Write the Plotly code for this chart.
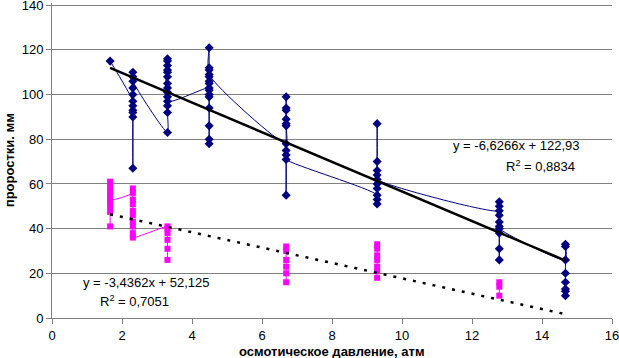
import plotly.graph_objects as go

# Blue series (replicate measurements per osmotic pressure, in data order)
blue_x_levels = [1.66, 2.31, 3.30, 4.49, 6.69, 9.29, 12.78, 14.67]
blue_values = [
    [115],
    [97, 93, 90, 67, 92, 95, 100, 103, 110, 108, 106],
    [83, 92, 95, 99, 101, 103, 105, 108, 110, 111, 113, 115, 116, 97],
    [103, 99, 94, 86, 80, 78, 100, 102, 105, 106, 108, 111, 112, 121, 109],
    [78, 86, 89, 94, 99, 93, 87, 55, 75, 73, 71],
    [55, 51, 53, 58, 60, 66, 70, 87, 64, 62],
    [48, 52, 50, 46, 43, 26, 31, 38, 41, 40],
    [26, 33, 32, 20, 16, 13, 12, 10],
]

# Pink series
pink_x_levels = [1.66, 2.31, 3.30, 6.69, 9.29, 12.78]
pink_values = [
    [41, 47.5, 50, 52, 55, 57, 59, 61, 53],
    [56, 58, 53, 51, 48, 46, 43, 41, 38, 36],
    [41, 40, 38, 35, 31, 26],
    [32, 30, 26, 23, 20, 16],
    [33, 31, 28, 26, 23, 21, 18],
    [16, 14, 10],
]
pink_connected = [True, True, False, False, False, False]  # line continues to next group

# Trendline coefficients (from the chart)
blue_slope, blue_intercept = -6.6266, 122.93
pink_slope, pink_intercept = -3.4362, 52.125
trend_x_range = [1.66, 14.67]

x_ticks = [0, 2, 4, 6, 8, 10, 12, 14, 16]
y_ticks = [0, 20, 40, 60, 80, 100, 120, 140]

NAVY = "#000080"
MAGENTA = "#FF00FF"
FONT = "Liberation Sans, Arial, sans-serif"

bx, by = [], []
for xv, vals in zip(blue_x_levels, blue_values):
    for v in vals:
        bx.append(xv)
        by.append(v)

px, py = [], []
for xv, vals, conn in zip(pink_x_levels, pink_values, pink_connected):
    for v in vals:
        px.append(xv)
        py.append(v)
    if not conn:
        px.append(None)
        py.append(None)

fig = go.Figure()

fig.add_trace(go.Scatter(
    x=px, y=py, mode="lines+markers",
    line=dict(color=MAGENTA, width=1, shape="spline", smoothing=0.6),
    marker=dict(symbol="square", size=6, color=MAGENTA),
    connectgaps=False, showlegend=False, hoverinfo="skip", cliponaxis=False))

fig.add_trace(go.Scatter(
    x=bx, y=by, mode="lines+markers",
    line=dict(color=NAVY, width=1, shape="spline", smoothing=0.6),
    marker=dict(symbol="diamond", size=7, color=NAVY),
    showlegend=False, hoverinfo="skip", cliponaxis=False))

fig.add_trace(go.Scatter(
    x=trend_x_range,
    y=[blue_slope * x + blue_intercept for x in trend_x_range],
    mode="lines", line=dict(color="black", width=2.5),
    showlegend=False, hoverinfo="skip"))

fig.add_trace(go.Scatter(
    x=trend_x_range,
    y=[pink_slope * x + pink_intercept for x in trend_x_range],
    mode="lines", line=dict(color="black", width=2.5, dash="3px,7px"),
    showlegend=False, hoverinfo="skip"))

ann_font = dict(family=FONT, size=13, color="black")
fig.add_annotation(x=13.27, y=77.1, text="y = -6,6266x + 122,93",
                   showarrow=False, font=ann_font)
fig.add_annotation(x=13.95, y=68.2, text="R<sup>2</sup> = 0,8834",
                   showarrow=False, font=ann_font)
fig.add_annotation(x=2.69, y=15.9, text="y = -3,4362x + 52,125",
                   showarrow=False, font=ann_font)
fig.add_annotation(x=2.35, y=7.8, text="R<sup>2</sup> = 0,7051",
                   showarrow=False, font=ann_font)

# Axis titles as paper annotations
fig.add_annotation(xref="paper", yref="paper", x=0.5, y=-0.107,
                   xanchor="center", yanchor="middle",
                   text="<b>осмотическое давление, атм</b>", showarrow=False,
                   font=dict(family=FONT, size=13, color="black"))
fig.add_annotation(xref="paper", yref="paper", x=-0.0755, y=0.5,
                   xanchor="center", yanchor="middle", textangle=-90,
                   text="<b>проростки. мм</b>", showarrow=False,
                   font=dict(family=FONT, size=13, color="black"))

fig.update_layout(
    width=619, height=358,
    margin=dict(l=52, r=7, t=3, b=40, autoexpand=False),
    paper_bgcolor="white", plot_bgcolor="white",
    font=dict(family=FONT, size=13, color="black"),
    xaxis=dict(
        range=[0, 16], tickvals=x_ticks, ticktext=[str(t) for t in x_ticks],
        showgrid=False, zeroline=False, automargin=False,
        showline=True, linecolor="#808080", linewidth=1,
        ticks="outside", ticklen=5, tickcolor="#808080",
        tickfont=dict(size=13), ticklabeloverflow="allow",
    ),
    yaxis=dict(
        range=[0, 141], tickvals=y_ticks, ticktext=[str(t) for t in y_ticks],
        showgrid=True, gridcolor="#808080", gridwidth=1,
        zeroline=False, automargin=False,
        showline=True, linecolor="#808080", linewidth=1,
        ticks="outside", ticklen=5, tickcolor="#808080",
        tickfont=dict(size=13), ticklabeloverflow="allow",
    ),
)

fig.write_html("out.html",
               config={"displayModeBar": False, "staticPlot": True},
               post_script="document.body.style.margin='0';document.body.style.overflow='hidden';")
